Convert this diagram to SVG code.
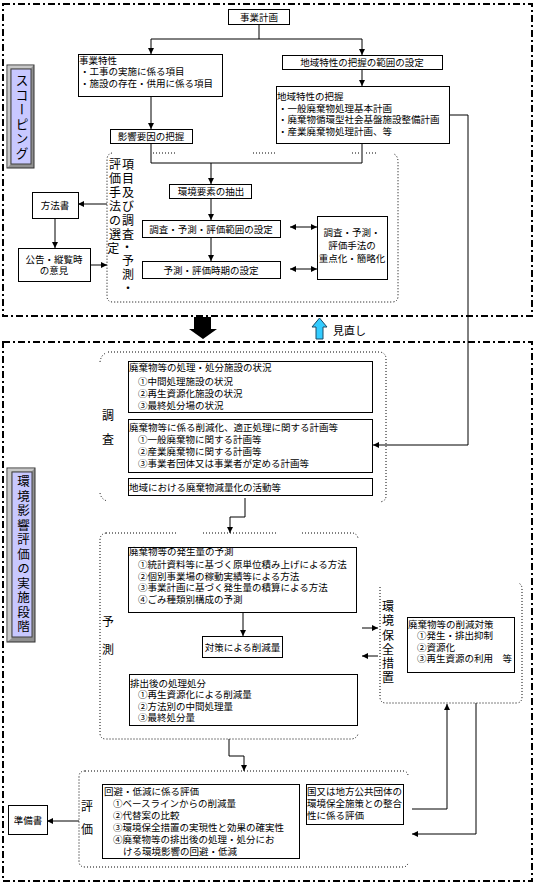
<svg xmlns="http://www.w3.org/2000/svg" width="535" height="883" viewBox="0 0 535 883">
<defs>
<style>
.b{fill:#fff;stroke:#000;stroke-width:1}
.t{font-family:'Liberation Sans','Noto Sans CJK JP',sans-serif;font-size:9.5px;fill:#000;dominant-baseline:central}
.c{text-anchor:middle}
.v{font-size:12px;text-anchor:middle}
.vt{font-family:'Liberation Sans','Noto Sans CJK JP',sans-serif;fill:#000;writing-mode:vertical-rl}
.ln{fill:none;stroke:#000;stroke-width:1}
.dot{fill:none;stroke:#000;stroke-width:1;stroke-dasharray:1 2}
.frame{fill:none;stroke:#000;stroke-width:2;stroke-dasharray:7 3 2 3}
</style>
<marker id="ah" viewBox="0 0 6 6" refX="6" refY="3" markerWidth="6" markerHeight="6" markerUnits="userSpaceOnUse" orient="auto-start-reverse">
<path d="M0,0 L6,3 L0,6 z" fill="#000"/>
</marker>
</defs>
<rect width="535" height="883" fill="#fff"/>

<g id="frames">
<rect class="frame" x="3" y="4" width="529" height="312"/>
<rect class="frame" x="3" y="342" width="529" height="539"/>
</g>

<g id="groups">
<path class="dot" d="M112,153 Q107,154 107,160 V296 Q107,302 113,302 H392 Q398,302 398,296 V162 Q398,156 394,154"/>
<path class="dot" d="M153,153 H176 M253,153 H276 M352,153 H361 M366,153 H376"/>
<path class="dot" d="M108,352 H380 Q386,353 386,359 V496 Q386,501 380,502"/>
<path class="dot" d="M100,362 Q101,355 106,353 M100,493 Q101,499 107,501"/>
<path class="dot" d="M106,533 Q100,534 100,540 V733 Q100,739 106,739 H352 Q357,738 358,734"/>
<path class="dot" d="M106,533 H176 M203,533 H277 M302,533 H353 Q357,534 358,538"/>
<path class="dot" d="M380,587 V697 Q380,703 386,703 H516 Q522,703 522,697 V589 Q522,584 518,583"/>
<path class="dot" d="M85,771 Q79,771 79,777 V861 Q79,867 85,867 H404 Q408,866 408,862 M85,771 H404 Q408,772 408,776"/>
</g>

<g id="connectors">
<path class="ln" d="M259,24 V39 H151 V54" marker-end="url(#ah)"/>
<path class="ln" d="M259,39 H362 V55" marker-end="url(#ah)"/>
<path class="ln" d="M151,96 V129" marker-end="url(#ah)"/>
<path class="ln" d="M362,69 V86" marker-end="url(#ah)"/>
<path class="ln" d="M449,115 H468 V445 H373" marker-end="url(#ah)"/>
<path class="ln" d="M151,143 V163 H362 V143"/>
<path class="ln" d="M211,163 V184" marker-end="url(#ah)"/>
<path class="ln" d="M211,198 V220" marker-end="url(#ah)"/>
<path class="ln" d="M211,237 V261" marker-end="url(#ah)"/>
<path class="ln" d="M290,227 H317" marker-start="url(#ah)" marker-end="url(#ah)"/>
<path class="ln" d="M290,269 H317" marker-start="url(#ah)" marker-end="url(#ah)"/>
<path class="ln" d="M107,204 H78" marker-end="url(#ah)"/>
<path class="ln" d="M55,218 V248" marker-end="url(#ah)"/>
<path class="ln" d="M90,265 H107" marker-end="url(#ah)"/>
<path class="ln" d="M245,498 V517 H230 V533" marker-end="url(#ah)"/>
<path class="ln" d="M243,612 V636" marker-end="url(#ah)"/>
<path class="ln" d="M362,628 H378" marker-end="url(#ah)"/>
<path class="ln" d="M378,656 H362" marker-end="url(#ah)"/>
<path class="ln" d="M229,739 V756 H244 V771" marker-end="url(#ah)"/>
<path class="ln" d="M79,821 H47" marker-end="url(#ah)"/>
<path class="ln" d="M412,809 H447 V704" marker-end="url(#ah)"/>
<path class="ln" d="M476,703 V834 H412" marker-end="url(#ah)"/>
</g>

<g id="big-arrows">
<path d="M194,317 H211 V329 H217 L203,339 L189,329 H194 Z" fill="#000"/>
<path d="M316,339 H323 V327 H327 L319.5,318 L312,327 H316 Z" fill="#33ccff" stroke="#1a4a66" stroke-width="1"/>
<text class="t" x="333" y="331" style="font-size:11px">見直し</text>
</g>

<g id="label-scoping">
<rect x="7" y="65" width="27" height="103" fill="#909090" stroke="#303030"/>
<path d="M7.5,65.5 H33.5 L30.5,68.5 H10.5 V164.5 L7.5,167.5 Z" fill="#c8c8c8"/>
<rect x="11" y="69" width="20" height="95" fill="#c8c8ff" stroke="#404040"/>
<text class="vt" x="21" y="74" style="font-size:13px;letter-spacing:1.5px">スコーピング</text>
</g>

<g id="label-impl">
<rect x="7" y="468" width="28" height="174" fill="#909090" stroke="#303030"/>
<path d="M7.5,468.5 H34.5 L31.5,471.5 H11.5 V638.5 L7.5,641.5 Z" fill="#c8c8c8"/>
<rect x="12" y="472" width="20" height="165" fill="#c8c8ff" stroke="#404040"/>
<text class="vt" x="22" y="475" style="font-size:12.5px;letter-spacing:2px">環境影響評価の実施段階</text>
</g>

<g id="n-jigyokeikaku">
<rect class="b" x="228.5" y="9.5" width="61" height="15"/>
<text class="t c" x="259" y="17">事業計画</text>
</g>

<g id="n-jigyotokusei">
<rect class="b" x="78.5" y="54.5" width="144" height="42"/>
<text class="t" x="79" y="60">事業特性</text>
<text class="t" x="80" y="71.5">・工事の実施に係る項目</text>
<text class="t" x="80" y="83">・施設の存在・供用に係る項目</text>
</g>

<g id="n-chiiki-hani">
<rect class="b" x="282.5" y="55.5" width="160" height="14"/>
<text class="t c" x="362" y="62.5">地域特性の把握の範囲の設定</text>
</g>

<g id="n-chiiki-haaku">
<rect class="b" x="276.5" y="86.5" width="173" height="57"/>
<text class="t" x="277" y="96">地域特性の把握</text>
<text class="t" x="278" y="108">・一般廃棄物処理基本計画</text>
<text class="t" x="278" y="119.5">・廃棄物循環型社会基盤施設整備計画</text>
<text class="t" x="278" y="131">・産業廃棄物処理計画、等</text>
</g>

<g id="n-eikyo">
<rect class="b" x="110.5" y="129.5" width="82" height="14"/>
<text class="t c" x="151" y="136.5">影響要因の把握</text>
</g>

<g id="n-sentei-label">
<text class="t v">
<tspan x="115" y="165">評</tspan><tspan x="115" y="179">価</tspan><tspan x="115" y="193">手</tspan><tspan x="115" y="207">法</tspan><tspan x="115" y="221">の</tspan><tspan x="115" y="235">選</tspan><tspan x="115" y="249">定</tspan>
<tspan x="128" y="165">項</tspan><tspan x="128" y="179">目</tspan><tspan x="128" y="193">及</tspan><tspan x="128" y="207">び</tspan><tspan x="128" y="221">調</tspan><tspan x="128" y="235">査</tspan><tspan x="127" y="248">・</tspan><tspan x="128" y="261">予</tspan><tspan x="128" y="275">測</tspan><tspan x="128" y="289">・</tspan>
</text>
</g>

<g id="n-kankyoyoso">
<rect class="b" x="169.5" y="184.5" width="82" height="14"/>
<text class="t c" x="211" y="191.5">環境要素の抽出</text>
</g>

<g id="n-hanni">
<rect class="b" x="142.5" y="220.5" width="138" height="17"/>
<text class="t c" x="211" y="229">調査・予測・評価範囲の設定</text>
</g>

<g id="n-jiki">
<rect class="b" x="142.5" y="261.5" width="138" height="17"/>
<text class="t c" x="211" y="270">予測・評価時期の設定</text>
</g>

<g id="n-juten">
<rect class="b" x="317.5" y="216.5" width="70" height="63"/>
<text class="t c" x="352" y="232">調査・予測・</text>
<text class="t c" x="352" y="245">評価手法の</text>
<text class="t c" x="352" y="258">重点化・簡略化</text>
</g>

<g id="n-hohosho">
<rect class="b" x="32.5" y="192.5" width="46" height="26"/>
<text class="t c" x="55" y="205.5">方法書</text>
</g>

<g id="n-kokoku">
<rect class="b" x="18.5" y="248.5" width="72" height="33"/>
<text class="t c" x="54" y="259">公告・縦覧時</text>
<text class="t c" x="54" y="270">の意見</text>
</g>

<g id="n-chosa-label">
<text class="t v"><tspan x="108" y="416">調</tspan><tspan x="108" y="440">査</tspan></text>
</g>

<g id="n-shisetsu">
<rect class="b" x="128.5" y="361.5" width="244" height="51"/>
<text class="t" x="129" y="367">廃棄物等の処理・処分施設の状況</text>
<text class="t" x="138" y="381">①中間処理施設の状況</text>
<text class="t" x="138" y="393">②再生資源化施設の状況</text>
<text class="t" x="138" y="405">③最終処分場の状況</text>
</g>

<g id="n-keikaku">
<rect class="b" x="128.5" y="419.5" width="244" height="53"/>
<text class="t" x="129" y="427">廃棄物等に係る削減化、適正処理に関する計画等</text>
<text class="t" x="138" y="439">①一般廃棄物に関する計画等</text>
<text class="t" x="138" y="451">②産業廃棄物に関する計画等</text>
<text class="t" x="138" y="463">③事業者団体又は事業者が定める計画等</text>
</g>

<g id="n-katsudo">
<rect class="b" x="128.5" y="478.5" width="244" height="17"/>
<text class="t" x="129" y="487">地域における廃棄物減量化の活動等</text>
</g>

<g id="n-yosoku-label">
<text class="t v"><tspan x="108" y="622">予</tspan><tspan x="108" y="650">測</tspan></text>
</g>

<g id="n-hasseiryo">
<rect class="b" x="128.5" y="547.5" width="228" height="65"/>
<text class="t" x="129" y="551">廃棄物等の発生量の予測</text>
<text class="t" x="138" y="564">①統計資料等に基づく原単位積み上げによる方法</text>
<text class="t" x="138" y="576">②個別事業場の稼動実績等による方法</text>
<text class="t" x="138" y="587.5">③事業計画に基づく発生量の積算による方法</text>
<text class="t" x="138" y="599">④ごみ種類別構成の予測</text>
</g>

<g id="n-sakugen">
<rect class="b" x="202.5" y="636.5" width="80" height="21"/>
<text class="t c" x="242.5" y="647">対策による削減量</text>
</g>

<g id="n-haishutsugo">
<rect class="b" x="129.5" y="674.5" width="228" height="51"/>
<text class="t" x="130" y="683">排出後の処理処分</text>
<text class="t" x="138" y="694.5">①再生資源化による削減量</text>
<text class="t" x="138" y="706">②方法別の中間処理量</text>
<text class="t" x="138" y="717.5">③最終処分量</text>
</g>

<g id="n-hozen-label">
<text class="t v"><tspan x="388" y="607">環</tspan><tspan x="388" y="621">境</tspan><tspan x="388" y="636">保</tspan><tspan x="388" y="650">全</tspan><tspan x="388" y="664">措</tspan><tspan x="388" y="678">置</tspan></text>
</g>

<g id="n-taisaku">
<rect class="b" x="407.5" y="617.5" width="107" height="55"/>
<text class="t" x="408" y="624">廃棄物等の削減対策</text>
<text class="t" x="417" y="635.5">①発生・排出抑制</text>
<text class="t" x="417" y="647">②資源化</text>
<text class="t" x="417" y="658.5">③再生資源の利用　等</text>
</g>

<g id="n-hyoka-label">
<text class="t v"><tspan x="87" y="807">評</tspan><tspan x="87" y="830">価</tspan></text>
</g>

<g id="n-kaihi">
<rect class="b" x="102.5" y="784.5" width="197" height="74"/>
<text class="t" x="104" y="791">回避・低減に係る評価</text>
<text class="t" x="113" y="803">①ベースラインからの削減量</text>
<text class="t" x="113" y="815">②代替案の比較</text>
<text class="t" x="113" y="827">③環境保全措置の実現性と効果の確実性</text>
<text class="t" x="113" y="839">④廃棄物等の排出後の処理・処分にお</text>
<text class="t" x="123" y="851">ける環境影響の回避・低減</text>
</g>

<g id="n-seigo">
<rect class="b" x="306.5" y="784.5" width="97" height="40"/>
<text class="t" x="307" y="791">国又は地方公共団体の</text>
<text class="t" x="307" y="803">環境保全施策との整合</text>
<text class="t" x="307" y="815">性に係る評価</text>
</g>

<g id="n-junbisho">
<rect class="b" x="8.5" y="805.5" width="39" height="29"/>
<text class="t c" x="28" y="820">準備書</text>
</g>
</svg>
